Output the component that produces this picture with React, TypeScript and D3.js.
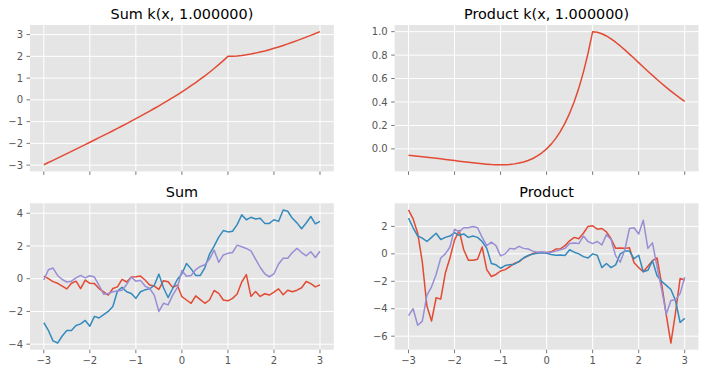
import { useEffect, useRef } from 'react';
import * as d3 from 'd3';

const xs = [
  -3.0, -2.9, -2.8, -2.7, -2.6, -2.5, -2.4, -2.3, -2.2, -2.1,
  -2.0, -1.9, -1.8, -1.7, -1.6, -1.5, -1.4, -1.3, -1.2, -1.1,
  -1.0, -0.9, -0.8, -0.7, -0.6, -0.5, -0.4, -0.3, -0.2, -0.1,
  0.0, 0.1, 0.2, 0.3, 0.4, 0.5, 0.6, 0.7, 0.8, 0.9,
  1.0, 1.1, 1.2, 1.3, 1.4, 1.5, 1.6, 1.7, 1.8, 1.9,
  2.0, 2.1, 2.2, 2.3, 2.4, 2.5, 2.6, 2.7, 2.8, 2.9, 3.0,
];

// Sum k(x, 1)
const sumKernel = [
  -2.982, -2.880, -2.778, -2.675, -2.573, -2.470, -2.367, -2.263, -2.159, -2.055,
  -1.950, -1.845, -1.739, -1.633, -1.526, -1.418, -1.309, -1.200, -1.089, -0.978,
  -0.865, -0.750, -0.635, -0.517, -0.398, -0.277, -0.153, -0.027, 0.101, 0.233,
  0.368, 0.507, 0.649, 0.797, 0.949, 1.107, 1.270, 1.441, 1.619, 1.805,
  2.000, 2.005, 2.019, 2.041, 2.070, 2.107, 2.149, 2.197, 2.249, 2.307,
  2.368, 2.433, 2.501, 2.573, 2.647, 2.723, 2.802, 2.883, 2.965, 3.050, 3.135,
];

// Product k(x, 1)
const prodKernel = [
  -0.0550, -0.0587, -0.0626, -0.0667, -0.0710, -0.0755, -0.0801, -0.0848, -0.0897, -0.0946,
  -0.0996, -0.1045, -0.1095, -0.1143, -0.1188, -0.1231, -0.1270, -0.1303, -0.1330, -0.1347,
  -0.1353, -0.1346, -0.1322, -0.1279, -0.1211, -0.1116, -0.0986, -0.0818, -0.0602, -0.0333,
  0.0, 0.0407, 0.0899, 0.1490, 0.2195, 0.3033, 0.4022, 0.5186, 0.6550, 0.8144,
  1.0, 0.9953, 0.9825, 0.9631, 0.9384, 0.9098, 0.8781, 0.8442, 0.8088, 0.7725,
  0.7358, 0.6990, 0.6626, 0.6268, 0.5918, 0.5578, 0.5249, 0.4932, 0.4628, 0.4338, 0.4060,
];

// Sum samples
const sumRed = [
  0.16, 0.0, -0.18, -0.28, -0.45, -0.62, -0.28, -0.15, -0.6, -0.08,
  -0.28, -0.3, -0.6, -0.8, -1.0, -0.6, -0.5, -0.04, -0.2, 0.1,
  0.12, 0.16, -0.08, -0.39, -0.45, -0.65, -0.12, -0.18, -0.53, -0.39,
  -1.1, -1.3, -1.5, -1.05, -1.28, -1.5, -1.3, -0.72, -0.9, -1.3,
  -1.35, -1.2, -0.93, -0.2, 0.25, -1.08, -0.78, -1.08, -0.92, -1.0,
  -0.82, -0.62, -0.98, -0.7, -0.8, -0.7, -0.55, -0.17, -0.3, -0.5, -0.38,
];
const sumBlue = [
  -2.69, -3.16, -3.8, -3.93, -3.5, -3.16, -3.16, -2.86, -2.76, -2.55,
  -2.9, -2.3, -2.4, -2.2, -2.0, -1.7, -0.75, -0.53, -0.8, -0.9,
  -1.2, -0.8, -0.68, -0.62, -0.4, 0.28, -0.55, -1.15, -0.6, -0.05,
  0.3, 0.93, 0.6, 0.2, 0.2, 0.68, 1.5, 1.99, 2.54, 2.94,
  2.86, 2.9, 3.3, 3.9, 3.6, 3.75, 3.65, 3.7, 3.38, 3.38,
  3.6, 3.5, 4.2, 4.12, 3.69, 3.41, 3.05, 3.4, 3.8, 3.35, 3.5,
];
const sumPurple = [
  -0.08, 0.55, 0.65, 0.2, -0.05, -0.2, -0.15, 0.05, 0.2, 0.05,
  0.18, 0.1, -0.4, -0.95, -0.9, -0.8, -0.75, -0.7, -0.35, 0.1,
  -0.15, -0.1, -0.45, -0.6, -1.0, -2.0, -1.5, -1.6, -1.0, -0.55,
  0.5, 0.15, 0.2, 0.55, 0.75, 0.85, 1.2, 1.75, 1.0, 1.45,
  1.55, 1.6, 2.05, 1.95, 1.85, 1.7, 1.2, 0.7, 0.3, 0.12,
  0.3, 0.9, 1.25, 1.25, 1.6, 1.85, 1.6, 1.4, 1.65, 1.3, 1.68,
];

// Product samples
const prodRed = [
  3.2, 2.55, 1.5, -0.6, -3.8, -4.9, -3.2, -3.3, -1.4, -0.3,
  1.0, 1.7, 0.3, -0.46, -0.46, -0.4, 0.5, -1.15, -1.65, -1.5,
  -1.25, -1.15, -0.94, -0.7, -0.58, -0.3, -0.14, 0.02, 0.1, 0.1,
  0.1, 0.15, 0.35, 0.37, 0.6, 0.95, 1.2, 1.1, 1.5, 2.0,
  2.05, 1.8, 1.85, 1.6, 1.1, 0.4, 0.42, 0.4, 0.45, -0.65,
  -1.0, -1.3, -0.9, -0.5, -0.3, -2.2, -4.45, -6.5, -4.3, -1.8, -1.9,
];
const prodBlue = [
  2.6, 1.9, 1.3, 1.15, 0.9, 1.2, 1.5, 1.05, 1.2, 1.3,
  1.55, 1.35, 1.45, 1.2, 1.3, 1.2, 0.9, 0.4, -0.7, -0.8,
  -1.05, -0.85, -0.8, -0.75, -0.55, -0.3, -0.12, -0.02, 0.05, 0.08,
  0.05, -0.05, -0.1, -0.08, -0.12, 0.3, 0.12, 0.0, -0.2, -0.3,
  0.0, -0.1, -1.0, -0.7, -1.0, -0.8, 0.0, 0.2, 0.2, -0.35,
  -0.1, -1.3, -1.2, -0.5, -1.6, -2.0, -2.3, -2.6, -3.4, -5.0, -4.7,
];
const prodPurple = [
  -4.5, -4.0, -5.2, -4.9, -3.0, -2.4, -1.5, -0.3, 0.0, 0.5,
  1.8, 1.6, 1.9, 1.9, 2.0, 1.9, 1.2, 0.6, 0.85, 0.6,
  -0.15, 0.0, 0.4, 0.35, 0.55, 0.4, 0.35, 0.2, 0.12, 0.15,
  0.1, 0.12, 0.2, 0.3, 0.4, 0.75, 0.8, 0.75, 1.3, 0.9,
  0.75, 0.9, 0.65, 1.4, 1.05, -0.15, -0.6, 0.3, 1.85, 1.9,
  1.45, 2.45, 0.4, 0.8, -0.95, -2.6, -4.4, -3.4, -3.35, -2.9, -1.7,
];

const xTicks = [-3, -2, -1, 0, 1, 2, 3];
const sumKernelTicks = [-3, -2, -1, 0, 1, 2, 3];
const prodKernelTicks = [0.0, 0.2, 0.4, 0.6, 0.8, 1.0];
const sumTicks = [-4, -2, 0, 2, 4];
const prodTicks = [-6, -4, -2, 0, 2];

const colors = ['#E24A33', '#348ABD', '#988ED5'];

const panels = [
  { title: 'Sum k(x, 1.000000)', series: [sumKernel], yTicks: sumKernelTicks, fmt: d3.format('d'), left: 30, top: 25, xLabels: false },
  { title: 'Product k(x, 1.000000)', series: [prodKernel], yTicks: prodKernelTicks, fmt: d3.format('.1f'), left: 394.7, top: 25, xLabels: false },
  { title: 'Sum', series: [sumRed, sumBlue, sumPurple], yTicks: sumTicks, fmt: d3.format('d'), left: 30, top: 203.3, xLabels: true },
  { title: 'Product', series: [prodRed, prodBlue, prodPurple], yTicks: prodTicks, fmt: d3.format('d'), left: 394.7, top: 203.3, xLabels: true },
];

export default function App() {
  const svgRef = useRef(null);

  useEffect(() => {
    const svg = d3.select(svgRef.current);
    svg.selectAll('*').remove();

    const pw = 303.8;
    const ph = 146.4;
    const font = 'DejaVu Sans, sans-serif';

    panels.forEach(p => {
      const all = p.series.flat();
      const [lo, hi] = d3.extent(all);
      const pad = (hi - lo) * 0.05;

      const x = d3.scaleLinear().domain([-3.3, 3.3]).range([p.left, p.left + pw]);
      const y = d3.scaleLinear().domain([lo - pad, hi + pad]).range([p.top + ph, p.top]);

      const g = svg.append('g');

      g.append('rect')
        .attr('x', p.left).attr('y', p.top)
        .attr('width', pw).attr('height', ph)
        .attr('fill', '#E5E5E5');

      // grid
      g.selectAll('.gx').data(xTicks).join('line')
        .attr('x1', d => x(d)).attr('x2', d => x(d))
        .attr('y1', p.top).attr('y2', p.top + ph)
        .attr('stroke', '#fff').attr('stroke-width', 1);
      g.selectAll('.gy').data(p.yTicks).join('line')
        .attr('class', 'gy')
        .attr('x1', p.left).attr('x2', p.left + pw)
        .attr('y1', d => y(d)).attr('y2', d => y(d))
        .attr('stroke', '#fff').attr('stroke-width', 1);

      // ticks
      g.selectAll('.tx').data(xTicks).join('line')
        .attr('class', 'tx')
        .attr('x1', d => x(d)).attr('x2', d => x(d))
        .attr('y1', p.top + ph).attr('y2', p.top + ph + 3.5)
        .attr('stroke', '#555').attr('stroke-width', 0.8);
      g.selectAll('.ty').data(p.yTicks).join('line')
        .attr('class', 'ty')
        .attr('x1', p.left - 3.5).attr('x2', p.left)
        .attr('y1', d => y(d)).attr('y2', d => y(d))
        .attr('stroke', '#555').attr('stroke-width', 0.8);

      g.selectAll('.ly').data(p.yTicks).join('text')
        .attr('class', 'ly')
        .attr('x', p.left - 7)
        .attr('y', d => y(d))
        .attr('dy', '0.36em')
        .attr('text-anchor', 'end')
        .attr('font-family', font)
        .attr('font-size', 10)
        .attr('fill', '#555')
        .text(d => p.fmt(d).replace('-', '\u2212'));

      if (p.xLabels) {
        g.selectAll('.lx').data(xTicks).join('text')
          .attr('class', 'lx')
          .attr('x', d => x(d))
          .attr('y', p.top + ph + 7)
          .attr('dy', '0.76em')
          .attr('text-anchor', 'middle')
          .attr('font-family', font)
          .attr('font-size', 10)
          .attr('fill', '#555')
          .text(d => d3.format('d')(d).replace('-', '\u2212'));
      }

      g.append('text')
        .attr('x', p.left + pw / 2)
        .attr('y', p.top - 6)
        .attr('text-anchor', 'middle')
        .attr('font-family', font)
        .attr('font-size', 14.4)
        .attr('fill', '#000')
        .text(p.title);

      const line = d3.line().x((d, i) => x(xs[i])).y(d => y(d));
      p.series.forEach((s, i) => {
        g.append('path')
          .datum(s)
          .attr('d', line)
          .attr('fill', 'none')
          .attr('stroke', colors[i])
          .attr('stroke-width', 1.5)
          .attr('stroke-linejoin', 'round');
      });
    });
  }, []);

  return (
    <svg
      ref={svgRef}
      width={705}
      height={374}
      style={{ position: 'absolute', left: 0, top: 0, background: '#fff' }}
    />
  );
}
